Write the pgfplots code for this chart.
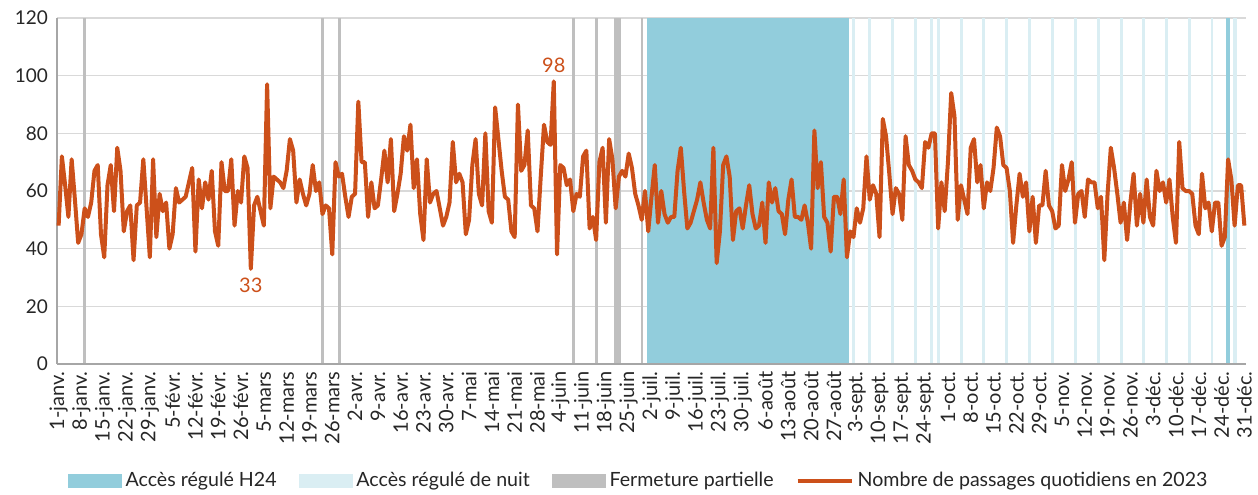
\documentclass[border=0pt]{standalone}
\usepackage{fontspec}
\setmainfont{Lato}
\usepackage{pgfplots}
\usepackage{pgfplotstable}
\pgfplotsset{compat=1.18}
\definecolor{hcol}{RGB}{146,205,220}
\definecolor{ncol}{RGB}{218,238,243}
\definecolor{gcol}{RGB}{191,191,191}
\definecolor{lcol}{RGB}{204,80,26}
\definecolor{gridc}{RGB}{217,217,217}
\definecolor{axc}{RGB}{166,166,166}
\definecolor{txt}{RGB}{38,38,38}

\pgfplotstableread[row sep=\\]{
v\\
48\\72\\62\\51\\71\\57\\42\\45\\54\\51\\56\\67\\69\\45\\37\\62\\69\\53\\75\\67\\
46\\53\\55\\36\\55\\56\\71\\54\\37\\71\\44\\59\\53\\56\\40\\45\\61\\56\\57\\58\\
63\\68\\39\\64\\54\\63\\57\\67\\46\\41\\70\\60\\60\\71\\48\\60\\56\\72\\68\\33\\
55\\58\\53\\48\\97\\54\\65\\64\\63\\61\\67\\78\\74\\56\\64\\59\\55\\59\\69\\60\\
63\\52\\55\\54\\38\\70\\65\\66\\58\\51\\58\\59\\91\\70\\70\\51\\63\\54\\55\\64\\
74\\63\\78\\53\\59\\66\\79\\74\\83\\61\\71\\52\\43\\71\\56\\59\\60\\54\\48\\51\\
56\\77\\63\\66\\63\\45\\50\\69\\78\\59\\55\\80\\53\\49\\89\\78\\67\\58\\57\\46\\
44\\90\\67\\69\\81\\55\\54\\46\\65\\83\\77\\76\\98\\38\\69\\68\\62\\64\\53\\59\\
58\\72\\74\\47\\51\\43\\70\\75\\49\\78\\71\\54\\65\\67\\65\\73\\68\\59\\55\\50\\
60\\46\\58\\69\\49\\60\\52\\49\\51\\51\\67\\75\\60\\47\\49\\53\\57\\63\\56\\50\\
47\\75\\35\\46\\69\\72\\65\\43\\53\\54\\47\\55\\62\\52\\47\\48\\56\\42\\63\\56\\
61\\53\\52\\45\\57\\64\\51\\51\\50\\55\\49\\40\\81\\61\\70\\51\\49\\39\\58\\58\\
52\\64\\37\\46\\44\\54\\49\\54\\72\\57\\62\\59\\44\\85\\79\\66\\52\\61\\59\\50\\
79\\69\\67\\64\\63\\61\\77\\75\\80\\80\\47\\63\\53\\70\\94\\86\\50\\62\\57\\52\\
75\\78\\63\\69\\54\\63\\60\\68\\82\\79\\69\\68\\60\\42\\55\\66\\58\\63\\46\\58\\
42\\55\\55\\67\\55\\53\\47\\48\\69\\60\\64\\70\\49\\59\\60\\51\\64\\63\\63\\54\\
58\\36\\59\\75\\68\\59\\49\\56\\43\\56\\66\\48\\59\\49\\64\\51\\48\\67\\60\\63\\
56\\64\\51\\42\\77\\61\\60\\60\\59\\48\\45\\66\\54\\56\\46\\56\\56\\41\\44\\71\\
64\\48\\62\\62\\48\\
}\passages

\begin{document}
\begin{tikzpicture}[font=\fontsize{10}{12}\selectfont, text=txt]
\useasboundingbox (-28.5pt,-65pt) rectangle (600.5pt,182pt);
\begin{axis}[
  at={(0,0)}, anchor=south west,
  scale only axis, width=594.5pt, height=173pt,
  xmin=0, xmax=365, ymin=0, ymax=120,
  enlargelimits=false,
  axis lines*=left,
  axis line style={draw=axc, line width=0.8pt},
  ymajorgrids, grid style={draw=gridc, line width=0.8pt},
  major tick length=0pt,
  ytick={0,20,...,120},
  /pgf/number format/assume math mode=true,
  yticklabel style={xshift=-1pt, font=\fontsize{9.5}{11}\selectfont},
  xtick={0.5,7.5,...,364.5},
  xticklabels={1-janv.,8-janv.,15-janv.,22-janv.,29-janv.,5-févr.,12-févr.,19-févr.,26-févr.,5-mars,12-mars,19-mars,26-mars,2-avr.,9-avr.,16-avr.,23-avr.,30-avr.,7-mai,14-mai,21-mai,28-mai,4-juin,11-juin,18-juin,25-juin,2-juil.,9-juil.,16-juil.,23-juil.,30-juil.,6-août,13-août,20-août,27-août,3-sept.,10-sept.,17-sept.,24-sept.,1-oct.,8-oct.,15-oct.,22-oct.,29-oct.,5-nov.,12-nov.,19-nov.,26-nov.,3-déc.,10-déc.,17-déc.,24-déc.,31-déc.},
  xticklabel style={rotate=90, anchor=east, inner sep=1pt, font=\fontsize{10}{12}\selectfont},
  xticklabel shift=2.5pt,
  clip=false,
  legend style={at={(0.49,-0.338)}, anchor=center, draw=none, fill=none,
    legend columns=4, inner sep=0pt,
    /tikz/every even column/.append style={column sep=9pt},
    font=\fontsize{9.8}{12}\selectfont},
  legend cell align=left,
]
% bands: Fermeture partielle
\addplot[fill=gcol, draw=none, forget plot] coordinates {(8.1,120)(8.9,120)} \closedcycle;
\addplot[fill=gcol, draw=none, forget plot] coordinates {(81.0,120)(82.0,120)} \closedcycle;
\addplot[fill=gcol, draw=none, forget plot] coordinates {(86.2,120)(87.2,120)} \closedcycle;
\addplot[fill=gcol, draw=none, forget plot] coordinates {(158.1,120)(159.0,120)} \closedcycle;
\addplot[fill=gcol, draw=none, forget plot] coordinates {(165.1,120)(166.1,120)} \closedcycle;
\addplot[fill=gcol, draw=none, forget plot] coordinates {(171.1,120)(173.1,120)} \closedcycle;
\addplot[fill=gcol, draw=none, forget plot] coordinates {(179.2,120)(180.0,120)} \closedcycle;
% Acces regule H24
\addplot[fill=hcol, draw=none, forget plot] coordinates {(181.0,120)(243.1,120)} \closedcycle;
\addplot[fill=hcol, draw=none, forget plot] coordinates {(359.0,120)(360.0,120)} \closedcycle;
% Acces regule de nuit
\addplot[fill=ncol, draw=none, forget plot] coordinates {(244.0,120)(245.0,120)} \closedcycle;
\addplot[fill=ncol, draw=none, forget plot] coordinates {(249.0,120)(249.9,120)} \closedcycle;
\addplot[fill=ncol, draw=none, forget plot] coordinates {(256.0,120)(257.0,120)} \closedcycle;
\addplot[fill=ncol, draw=none, forget plot] coordinates {(263.1,120)(264.0,120)} \closedcycle;
\addplot[fill=ncol, draw=none, forget plot] coordinates {(268.0,120)(269.0,120)} \closedcycle;
\addplot[fill=ncol, draw=none, forget plot] coordinates {(270.1,120)(271.0,120)} \closedcycle;
\addplot[fill=ncol, draw=none, forget plot] coordinates {(277.1,120)(278.0,120)} \closedcycle;
\addplot[fill=ncol, draw=none, forget plot] coordinates {(284.1,120)(285.0,120)} \closedcycle;
\addplot[fill=ncol, draw=none, forget plot] coordinates {(291.1,120)(292.0,120)} \closedcycle;
\addplot[fill=ncol, draw=none, forget plot] coordinates {(298.0,120)(299.0,120)} \closedcycle;
\addplot[fill=ncol, draw=none, forget plot] coordinates {(305.1,120)(306.0,120)} \closedcycle;
\addplot[fill=ncol, draw=none, forget plot] coordinates {(312.2,120)(313.1,120)} \closedcycle;
\addplot[fill=ncol, draw=none, forget plot] coordinates {(319.2,120)(320.1,120)} \closedcycle;
\addplot[fill=ncol, draw=none, forget plot] coordinates {(326.2,120)(327.1,120)} \closedcycle;
\addplot[fill=ncol, draw=none, forget plot] coordinates {(333.0,120)(334.0,120)} \closedcycle;
\addplot[fill=ncol, draw=none, forget plot] coordinates {(340.1,120)(341.0,120)} \closedcycle;
\addplot[fill=ncol, draw=none, forget plot] coordinates {(347.1,120)(348.0,120)} \closedcycle;
\addplot[fill=ncol, draw=none, forget plot] coordinates {(354.1,120)(355.0,120)} \closedcycle;
\addplot[fill=ncol, draw=none, forget plot] coordinates {(361.1,120)(362.1,120)} \closedcycle;
% baseline redrawn over the bands
\draw[axc, line width=0.8pt] (rel axis cs:0,0) -- (rel axis cs:1,0);
% series
\addplot[lcol, line width=2pt, line join=round, mark=none, forget plot]
  table[x expr=\coordindex+0.5, y=v] {\passages};
% data labels
\addplot[draw=none, mark=none, forget plot, nodes near coords, point meta=explicit symbolic,
  every node near coord/.append style={text=lcol, anchor=south, yshift=1pt, font=\fontsize{10}{12}\selectfont}]
  coordinates {(152.5,98) [98]};
\addplot[draw=none, mark=none, forget plot, nodes near coords, point meta=explicit symbolic,
  every node near coord/.append style={text=lcol, anchor=north, yshift=-1pt, font=\fontsize{10}{12}\selectfont}]
  coordinates {(59.5,33) [33]};
% legend
\addlegendimage{legend image code/.code={\fill[hcol] (0pt,-3.4pt) rectangle (26.5pt,3.4pt);}}
\addlegendentry{Accès régulé H24}
\addlegendimage{legend image code/.code={\fill[ncol] (0pt,-3.4pt) rectangle (26.5pt,3.4pt);}}
\addlegendentry{Accès régulé de nuit}
\addlegendimage{legend image code/.code={\fill[gcol] (0pt,-3.4pt) rectangle (26.5pt,3.4pt);}}
\addlegendentry{Fermeture partielle}
\addlegendimage{legend image code/.code={\draw[lcol, line width=2pt] (0pt,0pt) -- (27pt,0pt);}}
\addlegendentry{Nombre de passages quotidiens en 2023}
\end{axis}
\end{tikzpicture}
\end{document}
